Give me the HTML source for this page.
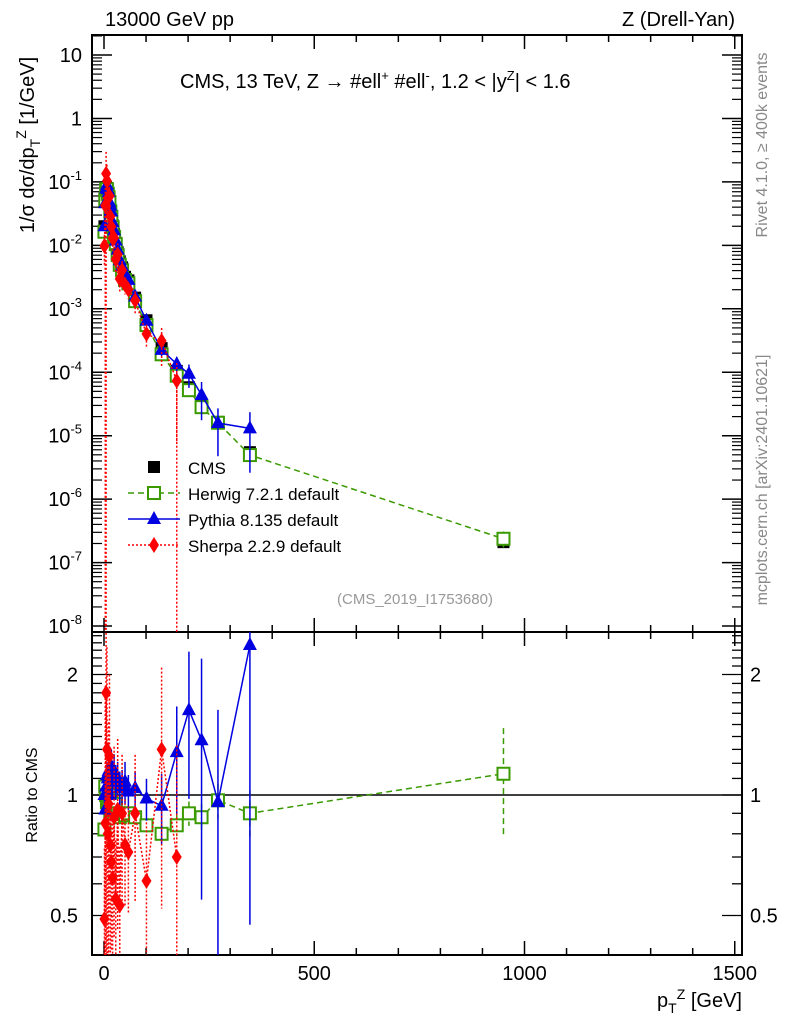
<!DOCTYPE html>
<html><head><meta charset="utf-8"><style>
body{margin:0;background:#fff;}
svg{font-family:"Liberation Sans",sans-serif;}
</style></head><body>
<svg id="c" width="786" height="1024" xmlns="http://www.w3.org/2000/svg">
<rect width="786" height="1024" fill="#fff"/>
<g id="g"></g>
</svg>
<script>
const bins=[1,3,5,7,9,11,13,15,17.5,20.5,24,28,32.5,37.5,43,50,58,74,101,137,173,202,232,271,347,950];
const cms=[0.02,0.05,0.075,0.08,0.07,0.06,0.048,0.038,0.029,0.021,0.015,0.011,0.0078,0.0056,0.0045,0.0032,0.0028,0.0015,0.00066,0.00024,0.000105,0.000058,0.000032,0.0000165,0.0000055,0.00000021];
const herwigRatio=[0.82,1.05,1.0,0.96,0.93,0.95,1.0,0.9,0.97,0.92,0.9,0.95,0.9,0.88,0.9,0.89,0.9,0.88,0.84,0.8,0.84,0.9,0.88,0.97,0.9,1.13];
const pythiaRatio=[1.0,0.92,1.05,1.12,1.1,1.15,1.0,1.12,1.18,1.1,1.15,1.08,1.1,1.04,1.05,1.08,1.02,1.04,0.98,0.94,1.28,1.63,1.37,0.96,2.37,null];
const sherpaRatio=[0.49,0.85,1.8,1.3,0.8,0.95,1.25,0.75,0.68,0.62,0.88,0.55,0.92,0.53,0.9,0.75,0.72,0.9,0.61,1.3,0.7,null,null,null,null,null];
const herwigErr=[0.03,0.03,0.03,0.03,0.03,0.03,0.03,0.03,0.03,0.03,0.03,0.03,0.03,0.03,0.03,0.03,0.03,0.03,0.04,0.05,0.06,0.07,0.08,0.1,0.14,0.3];
const pythiaErr=[0.05,0.05,0.06,0.08,0.08,0.1,0.08,0.1,0.1,0.1,0.1,0.1,0.1,0.1,0.1,0.12,0.1,0.1,0.12,0.2,0.3,0.4,0.6,0.7,0.8,0];
const sherpaErr=[0.5,1.2,1.2,0.8,0.5,0.6,0.6,0.5,0.4,0.4,0.5,0.4,0.5,0.4,0.4,0.3,0.3,0.4,0.4,0.6,0.9,0,0,0,0,0];
const xTicks=[0,500,1000,1500];
const yDecades=[-8,-7,-6,-5,-4,-3,-2,-1,0,1];
const yExp=["-8","-7","-6","-5","-4","-3","-2","-1","",""];
const rTicks=[0.5,1,2];

const L=92,R=742,T=35,M=632,B=955;
const xs=v=>104+v*0.4205;
const ys=v=>55+(1-Math.log10(v))*63.45;
const yr=v=>{v=Math.max(v,0.39);v=Math.min(v,2.6);return 795-Math.log2(v)*120.5;};
const NS="http://www.w3.org/2000/svg";
const g=document.getElementById('g');
function el(t,a,name,parent){const e=document.createElementNS(NS,t);for(const k in a)e.setAttribute(k,a[k]);


(parent||g).appendChild(e);return e;}
function txt(x,y,s,name,o){const e=el('text',Object.assign({x:x,y:y,'font-size':20,fill:'#000'},o||{}),name);e.textContent=s;return e;}

el('rect',{x:L,y:T,width:R-L,height:M-T,fill:'none',stroke:'#000','stroke-width':2},'main-frame');
el('rect',{x:L,y:M,width:R-L,height:B-M,fill:'none',stroke:'#000','stroke-width':2},'ratio-frame');
for(let v=0;v<=1500;v+=100){const maj=v%500==0;const len=maj?14:7;const x=xs(v);
 el('line',{x1:x,x2:x,y1:B,y2:B-len,stroke:'#000','stroke-width':1.5},'x-tick');
 el('line',{x1:x,x2:x,y1:M,y2:M-len,stroke:'#000','stroke-width':1.5},'x-tick-main');
 el('line',{x1:x,x2:x,y1:M,y2:M+len,stroke:'#000','stroke-width':1.5},'x-tick-ratio-top');
 el('line',{x1:x,x2:x,y1:T,y2:T+len,stroke:'#000','stroke-width':1.5},'x-tick-top');}
xTicks.forEach(v=>txt(xs(v),980,String(v),'x-tick-label',{'text-anchor':'middle'}));
yDecades.forEach((d,i)=>{const y=ys(Math.pow(10,d));
 if(y>=T&&y<=M+1){el('line',{x1:L,x2:L+20,y1:y,y2:y,stroke:'#000','stroke-width':1.5},'y-tick');
 el('line',{x1:R,x2:R-20,y1:y,y2:y,stroke:'#000','stroke-width':1.5},'y-tick-right');
 const lab=txt(L-10,y+7,'','y-tick-label',{'text-anchor':'end'});
 if(d==0)lab.textContent='1';else if(d==1)lab.textContent='10';
 else lab.innerHTML='10<tspan font-size="13" dy="-9">'+yExp[i]+'</tspan>';}
 for(let m=2;m<10;m++){const yy=ys(m*Math.pow(10,d));if(yy>T&&yy<M){
 el('line',{x1:L,x2:L+10,y1:yy,y2:yy,stroke:'#000','stroke-width':1.2},'y-minor-tick');
 el('line',{x1:R,x2:R-10,y1:yy,y2:yy,stroke:'#000','stroke-width':1.2},'y-minor-tick-right');}}});
for(let v=0.4;v<=2.6;v=Math.round((v+0.1)*10)/10){const y=yr(v);if(y<M+1||y>B-1)continue;
 const maj=rTicks.includes(v);const len=maj?20:10;
 el('line',{x1:L,x2:L+len,y1:y,y2:y,stroke:'#000','stroke-width':1.3},'ratio-tick');
 el('line',{x1:R,x2:R-len,y1:y,y2:y,stroke:'#000','stroke-width':1.3},'ratio-tick-right');}
rTicks.forEach(v=>{txt(78,yr(v)+7,String(v),'ratio-tick-label',{'text-anchor':'end'});
 txt(750,yr(v)+7,String(v),'ratio-tick-label-right');});
el('line',{x1:L,x2:R,y1:yr(1),y2:yr(1),stroke:'#000','stroke-width':1.5},'ratio-unity-line');

const cp=el('clipPath',{id:'cm'},'clip-main');el('rect',{x:L,y:T,width:R-L,height:M-T},'clip-rect',cp);
const cr=el('clipPath',{id:'cr'},'clip-ratio');el('rect',{x:L,y:M,width:R-L,height:B-M},'clip-rect',cr);
const gm=el('g',{'clip-path':'url(#cm)'},'main-plot-area');
const grr=el('g',{'clip-path':'url(#cr)'},'ratio-plot-area');

function marker(p,shape,x,y,col,name){
 if(shape=='sq')el('rect',{x:x-6,y:y-6,width:12,height:12,fill:'#fff',stroke:col,'stroke-width':2},name,p);
 if(shape=='fsq')el('rect',{x:x-6,y:y-6,width:12,height:12,fill:col},name,p);
 if(shape=='tri')el('polygon',{points:`${x},${y-8} ${x-7},${y+5} ${x+7},${y+5}`,fill:col},name,p);
 if(shape=='dia')el('polygon',{points:`${x},${y-8} ${x-5},${y} ${x},${y+8} ${x+5},${y}`,fill:col},name,p);}
const series=[
 {n:'herwig',r:herwigRatio,e:herwigErr,c:'#3a9a00',s:'sq',d:'6,4'},
 {n:'pythia',r:pythiaRatio,e:pythiaErr,c:'#0000e0',s:'tri',d:''},
 {n:'sherpa',r:sherpaRatio,e:sherpaErr,c:'#ff0000',s:'dia',d:'2,2'}];
bins.forEach((b,i)=>marker(gm,'fsq',xs(b),ys(cms[i]),'#000','cms-point'));
series.forEach(S=>{
 const ptsM=[],ptsR=[];
 bins.forEach((b,i)=>{const r=S.r[i];if(r==null)return;const v=cms[i]*r;ptsM.push([xs(b),ys(v)]);ptsR.push([xs(b),yr(r)]);});
 if(S.n=='sherpa'){ptsM.push([xs(173),M+20]);}
 el('polyline',{points:ptsM.map(p=>p.join(',')).join(' '),fill:'none',stroke:S.c,'stroke-width':1.5,'stroke-dasharray':S.d},S.n+'-line',gm);
 el('polyline',{points:ptsR.map(p=>p.join(',')).join(' '),fill:'none',stroke:S.c,'stroke-width':1.5,'stroke-dasharray':S.d},S.n+'-ratio-line',grr);
 bins.forEach((b,i)=>{const r=S.r[i];if(r==null)return;const e=S.e[i];const x=xs(b);
  const v=cms[i]*r;
  el('line',{x1:x,x2:x,y1:ys(v*(1+e)),y2:ys(Math.max(v*(1-e),1e-9)),stroke:S.c,'stroke-width':1.5,'stroke-dasharray':S.d},S.n+'-error-bar',gm);
  el('line',{x1:x,x2:x,y1:yr(r+e*r),y2:yr(Math.max(r-e*r,0.3)),stroke:S.c,'stroke-width':1.5,'stroke-dasharray':S.d},S.n+'-ratio-error-bar',grr);
  marker(gm,S.s,x,ys(v),S.c,S.n+'-point');
  marker(grr,S.s,x,yr(r),S.c,S.n+'-ratio-point');});
});
txt(105,26,'13000 GeV pp','title-left');
txt(735,26,'Z (Drell-Yan)','title-right',{'text-anchor':'end'});
const t=txt(180,88,'','plot-label');
t.innerHTML='CMS, 13 TeV, Z \u2192  #ell<tspan font-size="13" dy="-8">+</tspan><tspan dy="8"> #ell</tspan><tspan font-size="13" dy="-8">-</tspan><tspan dy="8">, 1.2 &lt; |y</tspan><tspan font-size="13" dy="-8">Z</tspan><tspan dy="8">| &lt; 1.6</tspan>';
txt(415,604,'(CMS_2019_I1753680)','analysis-id',{'text-anchor':'middle','font-size':15,fill:'#999'});
const yl=txt(0,0,'','y-axis-title',{transform:'translate(34,145) rotate(-90)','text-anchor':'middle'});
yl.innerHTML='1/\u03C3 d\u03C3/dp<tspan font-size="14" dy="6">T</tspan><tspan font-size="14" dy="-14">Z</tspan><tspan dy="8"> [1/GeV]</tspan>';
txt(0,0,'Ratio to CMS','ratio-y-title',{transform:'translate(37,795) rotate(-90)','text-anchor':'middle','font-size':16});
const xl=txt(742,1007,'','x-axis-title',{'text-anchor':'end'});
xl.innerHTML='p<tspan font-size="14" dy="6">T</tspan><tspan font-size="14" dy="-14">Z</tspan><tspan dy="8"> [GeV]</tspan>';
txt(0,0,'Rivet 4.1.0, \u2265 400k events','rivet-label',{transform:'translate(767,145) rotate(-90)','text-anchor':'middle','font-size':16,fill:'#888'});
txt(0,0,'mcplots.cern.ch [arXiv:2401.10621]','mcplots-label',{transform:'translate(767,480) rotate(-90)','text-anchor':'middle','font-size':16,fill:'#888'});
const leg=[['CMS','fsq','#000',''],['Herwig 7.2.1 default','sq','#3a9a00','6,4'],['Pythia 8.135 default','tri','#0000e0',''],['Sherpa 2.2.9 default','dia','#ff0000','2,2']];
leg.forEach((l,i)=>{const y=467+i*26;
 if(i>0)el('line',{x1:128,x2:180,y1:y,y2:y,stroke:l[2],'stroke-width':1.5,'stroke-dasharray':l[3]},'legend-line');
 marker(g,l[1],154,y,l[2],'legend-marker');
 txt(188,y+7,l[0],'legend-entry',{'font-size':17});});
</script>
</body></html>
